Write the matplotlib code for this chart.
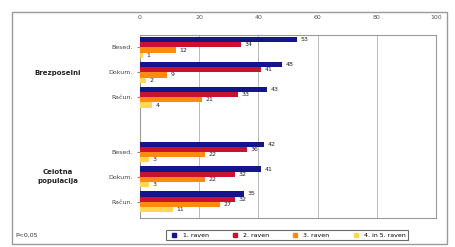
import matplotlib
matplotlib.use("Agg")
import matplotlib.pyplot as plt
from matplotlib.patches import Rectangle
import numpy as np

groups = ["Brezposelni", "Celotna\npopulacija"]
subcats = ["Besed.", "Dokum.", "Račun."]
levels = ["1. raven", "2. raven", "3. raven", "4. in 5. raven"]
# values per level, order: Brezposelni (Besed., Dokum., Račun.), Celotna populacija (Besed., Dokum., Račun.)
lvl1 = [53, 48, 43, 42, 41, 35]
lvl2 = [34, 41, 33, 36, 32, 32]
lvl3 = [12, 9, 21, 22, 22, 27]
lvl45 = [1, 2, 4, 3, 3, 11]
series = [lvl1, lvl2, lvl3, lvl45]
colors = ["#14148c", "#cc1030", "#ff8a10", "#ffd850"]
xticks = [0, 20, 40, 60, 80, 100]
note = "P<0,05"

fig = plt.figure(figsize=(4.56, 2.47), dpi=100)
fig.patch.set_facecolor("white")
fig.add_artist(Rectangle((12/456, 1-244/247), 435/456, 232/247, transform=fig.transFigure,
                         fill=False, edgecolor="#9a9a9a", lw=1.0))

ax = fig.add_axes([140/456, 1-218/247, 296/456, 183/247])
pos = np.array([0, 1, 2, 4.2, 5.2, 6.2])
h = 0.21
for i, (vals, c) in enumerate(zip(series, colors)):
    y = pos - 0.315 + i * h
    ax.barh(y, vals, height=h, color=c, edgecolor="none", zorder=3)
    for yy, v in zip(y, vals):
        ax.text(v + 1.2, yy, str(v), fontsize=4.5, va="center", ha="left", color="#222222", zorder=4)

ax.set_xlim(0, 100)
ax.set_ylim(6.85, -0.5)
ax.set_xticks(xticks)
ax.xaxis.tick_top()
ax.tick_params(axis="x", labelsize=4.5, colors="#555555", length=0, pad=11)
ax.set_yticks(pos)
ax.set_yticklabels(subcats * 2, fontsize=4.5, color="#444444")
ax.tick_params(axis="y", length=2, color="#888888", pad=3)
ax.grid(axis="x", color="#b0b0b0", lw=0.6, zorder=0)
for s in ax.spines.values():
    s.set_color("#9a9a9a")
    s.set_linewidth(0.8)

fig.text(58/456, 1-73/247, groups[0], fontsize=5, fontweight="bold", ha="center", va="center", color="#222222")
fig.text(58/456, 1-177/247, groups[1], fontsize=5, fontweight="bold", ha="center", va="center",
         color="#222222", linespacing=1.6)
fig.text(15/456, 1-235/247, note, fontsize=4.5, ha="left", va="center", color="#333333")

handles = [plt.Line2D([], [], marker="s", ls="none", color=c, markersize=3) for c in colors]
leg = fig.legend(handles, levels, loc="center", bbox_to_anchor=(287/456, 1-235/247), ncol=4,
                 fontsize=4.5, frameon=True, handletextpad=0.3, columnspacing=3.2,
                 borderpad=0.4, fancybox=False)
leg.get_frame().set_edgecolor("#444444")
leg.get_frame().set_linewidth(0.8)

fig.savefig("out.png", dpi=100)
